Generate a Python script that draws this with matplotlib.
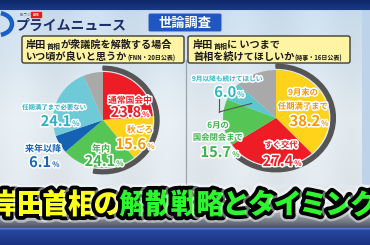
import matplotlib
matplotlib.use("Agg")
import matplotlib.pyplot as plt
import matplotlib.patheffects as pe
from matplotlib.patches import FancyBboxPatch, Wedge, Arc, Rectangle, ConnectionPatch
import numpy as np

plt.rcParams['font.family'] = ['Noto Sans CJK JP', 'DejaVu Sans']

W, H = 370, 245

# FNN poll: when should the PM dissolve the lower house
left_labels = ["通常国会中", "秋ごろ", "年内", "来年以降", "任期満了まで必要ない"]
left_values = [23.8, 15.6, 24.1, 6.1, 24.1]
left_colors = ["#ee1c25", "#ffd31a", "#55c655", "#1462b2", "#70c9d6", "#a9a9a9"]
left_text_colors = ["#e8232a", "#f39800", "#3cb44a", "#1565b5", "#2db1c4"]

# Jiji poll: until when should the PM stay on
right_labels = ["9月末の\n任期満了まで", "すぐ交代", "6月の\n国会閉会まで", "9月以降も続けてほしい"]
right_values = [38.2, 27.4, 15.7, 6.0]
right_colors = ["#ffd31a", "#ee1c25", "#55c655", "#5ec6ce", "#a9a9a9"]
right_text_colors = ["#f39800", "#e8232a", "#3cb44a", "#2bb8c8"]

title = "岸田首相の解散戦略とタイミング"
title_split = 5

fig = plt.figure(figsize=(W / 100, H / 100), dpi=100)

# ---- background ----
bg = fig.add_axes([0, 0, 1, 1], zorder=0)
bg.set_xlim(0, W)
bg.set_ylim(H, 0)
bg.axis("off")

rows = np.arange(H)
stops_y = [0, 10, 11, 60, 120, 185, 205, 227, 228, 230, 245]
stops_c = np.array([
    [0.05, 0.15, 0.40], [0.10, 0.22, 0.52], [0.80, 0.87, 0.93], [0.84, 0.89, 0.93],
    [0.90, 0.93, 0.95], [0.88, 0.91, 0.93], [0.84, 0.87, 0.89], [0.30, 0.33, 0.38],
    [0.35, 0.50, 0.85], [0.16, 0.28, 0.62], [0.10, 0.19, 0.50]])
img = np.zeros((H, W, 3))
for k in range(3):
    img[:, :, k] = np.interp(rows, stops_y, stops_c[:, k])[:, None]
cols = np.arange(W)
stripe = 0.015 * np.sin(cols / 370 * 2 * np.pi * 5)
img[11:185, :, :] += stripe[None, :, None]
img[11:185, 362:, :] = [0.74, 0.83, 0.92]
bg.imshow(np.clip(img, 0, 1), extent=(0, W, H, 0), aspect="auto", interpolation="bilinear")

# ---- overlay for texts and boxes ----
ov = fig.add_axes([0, 0, 1, 1], zorder=5)
ov.set_xlim(0, W)
ov.set_ylim(H, 0)
ov.axis("off")
ov.patch.set_alpha(0)

# logo
bg.add_patch(Arc((-2, 24), 28, 22, theta1=-75, theta2=75, lw=3.2, color="#1a5fc4"))
ov.text(20, 15, "BSフジ", fontsize=2.6, color="#444444", ha="left", va="center")
ov.add_patch(Rectangle((31, 12.5), 10, 4.5, color="#e02020"))
ov.text(36, 14.8, "LIVE", fontsize=2.4, color="white", ha="center", va="center", fontweight="bold")
ov.text(16, 26, "プライムニュース", fontsize=10, color="#1b2f6b", ha="left", va="center",
        fontweight="bold", fontstyle="italic")

# survey tag
ov.add_patch(FancyBboxPatch((148, 13), 74, 19, boxstyle="round,pad=0,rounding_size=2",
                            fc="#1f56c2", ec="#c8d8f0", lw=0.8))
ov.text(185, 22.5, "世論調査", fontsize=9.5, color="white", ha="center", va="center",
        fontweight="bold")

# divider
bg.plot([186, 186], [60, 185], color="#9aa4ad", lw=0.9)

# question boxes
for x0 in (22, 188):
    ov.add_patch(FancyBboxPatch((x0, 36), 162, 27, boxstyle="round,pad=0,rounding_size=2",
                                fc="#fff4a3", ec="#3a3a3a", lw=1.0))


def rich_line(x, y, parts):
    prev = None
    for txt, size in parts:
        kw = dict(fontsize=size, fontweight="bold", color="#1a1a1a", ha="left", va="bottom")
        if prev is None:
            prev = ov.text(x, y, txt, **kw)
        else:
            prev = ov.annotate(txt, xy=(1, 0), xycoords=prev, **kw)


rich_line(26, 50, [("岸田", 7.3), ("首相", 5.0), ("が衆議院を解散する場合", 7.3)])
rich_line(26, 62, [("いつ頃が良いと思うか", 7.3), ("(FNN・20日公表)", 4.3)])
rich_line(193, 50, [("岸田", 7.3), ("首相", 5.0), ("に いつまで", 7.3)])
rich_line(193, 62, [("首相を続けてほしいか", 7.3), ("(時事・16日公表)", 4.3)])


# ---- pies ----
def pie_axes(cx, cy, rx, ry, m=1.2):
    return fig.add_axes([(cx - rx * m) / W, (H - cy - ry * m) / H,
                         2 * rx * m / W, 2 * ry * m / H], zorder=3)


def draw_pie(ax, values, colors, rim_end, m=1.2):
    vals = list(values) + [100 - sum(values)]
    wedges, _ = ax.pie(vals, colors=colors, startangle=90, counterclock=False,
                       radius=1.0, wedgeprops=dict(linewidth=0), frame=True)
    ax.add_patch(Wedge((0, 0), 1.12, rim_end, 90, width=0.08, color="#555555"))
    ax.set_xlim(-m, m)
    ax.set_ylim(-m, m)
    ax.set_aspect("auto")
    ax.axis("off")
    return wedges


axL = pie_axes(103, 120, 50, 48)
wl = draw_pie(axL, left_values, left_colors, -100)
axR = pie_axes(276, 118, 53, 48)
wr = draw_pie(axR, right_values, right_colors, -132)

# ---- slice labels ----
stroke = [pe.Stroke(linewidth=2.2, foreground="white"), pe.Normal()]


def cat_label(x, y, txt, color, size=6.3, ls=1.25):
    ov.text(x, y, txt, fontsize=size, color=color, ha="center", va="center",
            fontweight="bold", linespacing=ls, path_effects=stroke)


def value_label(x, y, val, color):
    ov.text(x, y, f"{val:.1f}", fontsize=10.5, color=color, ha="right", va="baseline",
            fontweight="bold", path_effects=stroke)
    ov.text(x + 1.2, y, "%", fontsize=5.5, color=color, ha="left", va="baseline",
            fontweight="bold", path_effects=stroke)


left_cat_pos = [(130, 100.5), (140, 130), (101, 149), (43, 149), (54, 107)]
left_val_pos = [(141, 117), (146, 149), (115, 166), (51, 167), (71, 126)]
left_cat_size = [6.3, 6.3, 6.5, 6.5, 4.6]
for i, lab in enumerate(left_labels):
    cat_label(*left_cat_pos[i], lab, left_text_colors[i], size=left_cat_size[i])
    value_label(*left_val_pos[i], left_values[i], left_text_colors[i])

right_cat_pos = [(303, 99.5), (281, 145), (218, 131.5), (227, 78.5)]
right_val_pos = [(320, 126), (293, 166), (231, 157), (236, 97)]
right_cat_size = [6.0, 6.0, 6.0, 4.8]
right_ls = [1.7, 1.25, 1.45, 1.25]
for i, lab in enumerate(right_labels):
    cat_label(*right_cat_pos[i], lab, right_text_colors[i], size=right_cat_size[i], ls=right_ls[i])
    value_label(*right_val_pos[i], right_values[i], right_text_colors[i])

# leader line to the small teal slice
w = wr[3]
mid = np.deg2rad((w.theta1 + w.theta2) / 2)
ov.plot([219, 219], [99, 112], color="#555555", lw=0.8)
fig.add_artist(ConnectionPatch(xyA=(219, 112), coordsA=ov.transData,
                               xyB=(0.55 * np.cos(mid), 0.55 * np.sin(mid)), coordsB=axR.transData,
                               color="#555555", lw=0.8, zorder=6))

# ---- headline banner ----
banner_fx = [pe.Stroke(linewidth=9, foreground=(1, 1, 1, 0.45)),
             pe.Stroke(linewidth=5.5, foreground="black"), pe.Normal()]
for i, ch in enumerate(title):
    ov.text(5 + 25.7 * i, 205, ch, fontsize=20.5, fontweight="black",
            color="#ffff1e" if i < title_split else "#2ef52e",
            ha="center", va="center", path_effects=banner_fx)

fig.savefig("out.png", dpi=100)
